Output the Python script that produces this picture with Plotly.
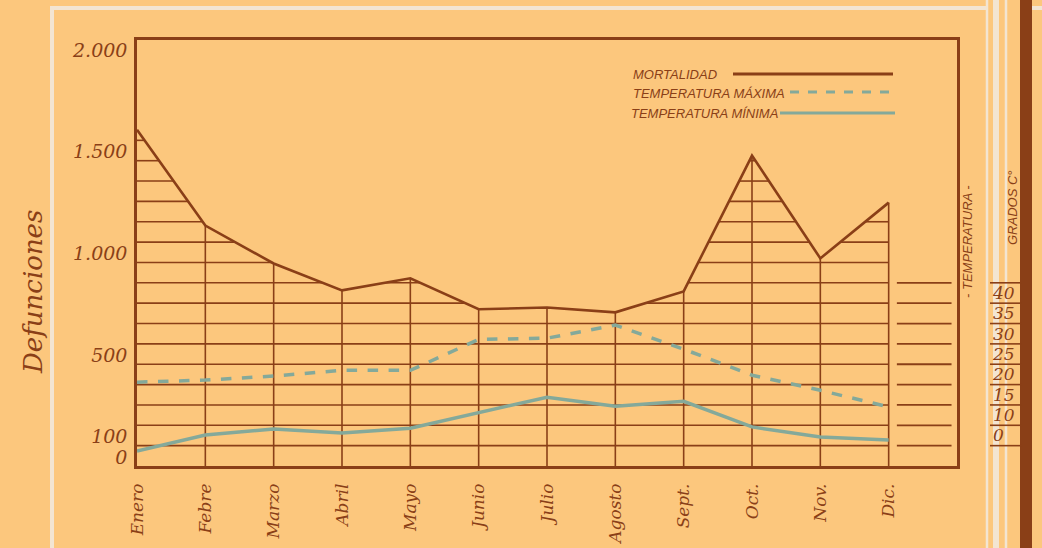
import numpy as np
import plotly.graph_objects as go

# ---------------- data ----------------
meses = ["Enero", "Febre", "Marzo", "Abril", "Mayo", "Junio",
         "Julio", "Agosto", "Sept.", "Oct.", "Nov.", "Dic."]
mortalidad = [1652, 1181, 995, 863, 922, 770, 779, 755, 858, 1525, 1020, 1294]
temp_maxima = [18.1, 18.6, 19.6, 21.0, 21.0, 28.6, 28.9, 32.1, 26.2, 19.8, 16.1, 12.0]
temp_minima = [1.2, 5.1, 6.6, 5.6, 6.8, 10.5, 14.4, 12.2, 13.4, 7.1, 4.6, 3.9]

def_tickvals = [0, 100, 500, 1000, 1500, 2000]
def_ticktext = ["0", "100", "500", "1.000", "1.500", "2.000"]
temp_tickvals = [5, 10, 15, 20, 25, 30, 35, 40]
temp_ticktext = ["0", "10", "15", "20", "25", "30", "35", "40"]
escala_niveles = [100, 200, 300, 400, 500, 600, 700, 800, 900]

# ---------------- style ----------------
BG = "#FCC77D"
BROWN = "#8A3F17"
TEAL = "#84A99A"
WHITE = "#F3E5D2"
SERIF = "DejaVu Serif"
SANS = "Liberation Sans"

W, H = 1042, 548
L, R, T, B = 137, 957, 40, 466

def px(x):
    return (x - L) / (R - L)

def py(y):
    return (B - y) / (B - T)

Y_MAX = 2093
# temperature axis: 5 degrees per 100 defunciones, 10 deg at 250
def d2t(d):
    return 10 + (d - 250) / 20.0

xs = np.arange(len(meses), dtype=float)
m = np.array(mortalidad, dtype=float)

# hatch lines under the mortality curve
hx, hy = [], []
for lev in range(100, int(m.max()) + 1, 100):
    intervals = []
    for i in range(len(m) - 1):
        a, b = m[i], m[i + 1]
        if a >= lev and b >= lev:
            intervals.append([xs[i], xs[i + 1]])
        elif a >= lev > b:
            intervals.append([xs[i], xs[i] + (a - lev) / (a - b)])
        elif b >= lev > a:
            intervals.append([xs[i] + (lev - a) / (b - a), xs[i + 1]])
    merged = []
    for iv in intervals:
        if merged and abs(merged[-1][1] - iv[0]) < 1e-9:
            merged[-1][1] = iv[1]
        else:
            merged.append(list(iv))
    for a0, a1 in merged:
        hx += [a0, a1, None]
        hy += [lev, lev, None]

vx, vy = [], []
for i in range(1, len(m)):
    vx += [xs[i], xs[i], None]
    vy += [0, m[i], None]

fig = go.Figure()
fig.add_trace(go.Scatter(x=hx, y=hy, mode="lines", line=dict(color=BROWN, width=1.6),
                         hoverinfo="skip", showlegend=False))
fig.add_trace(go.Scatter(x=vx, y=vy, mode="lines", line=dict(color=BROWN, width=1.6),
                         hoverinfo="skip", showlegend=False))
fig.add_trace(go.Scatter(x=xs, y=temp_maxima, yaxis="y2", mode="lines",
                         line=dict(color=TEAL, width=3.5, dash="dash"),
                         name="Temperatura máxima", showlegend=False))
fig.add_trace(go.Scatter(x=xs, y=temp_minima, yaxis="y2", mode="lines",
                         line=dict(color=TEAL, width=3.5),
                         name="Temperatura mínima", showlegend=False))
fig.add_trace(go.Scatter(x=xs, y=mortalidad, mode="lines",
                         line=dict(color=BROWN, width=2.6),
                         name="Mortalidad", showlegend=False))

shapes = []
# paper decorations
shapes.append(dict(type="line", xref="paper", yref="paper", x0=px(50), x1=px(988), y0=py(8), y1=py(8),
                   line=dict(color=WHITE, width=4), layer="below"))
shapes.append(dict(type="line", xref="paper", yref="paper", x0=px(52), x1=px(52), y0=py(6), y1=py(560),
                   line=dict(color=WHITE, width=4), layer="below"))
for xx, ww in [(987, 2.5), (996, 6), (1006, 2.5)]:
    shapes.append(dict(type="line", xref="paper", yref="paper", x0=px(xx), x1=px(xx), y0=py(-10), y1=py(560),
                       line=dict(color=WHITE, width=ww), layer="below"))
shapes.append(dict(type="line", xref="paper", yref="paper", x0=px(1026), x1=px(1026), y0=py(-10), y1=py(560),
                   line=dict(color=BROWN, width=12), layer="below"))
shapes.append(dict(type="line", xref="paper", yref="paper", x0=px(1032), x1=px(1045), y0=py(8), y1=py(8),
                   line=dict(color=WHITE, width=4), layer="below"))

# temperature scale lines (inside and outside the frame)
for lev in escala_niveles:
    shapes.append(dict(type="line", xref="x", yref="y", x0=11.12, x1=11.92, y0=lev, y1=lev,
                       line=dict(color=BROWN, width=1.8)))
    shapes.append(dict(type="line", xref="paper", yref="y", x0=px(990), x1=px(1022), y0=lev, y1=lev,
                       line=dict(color=BROWN, width=1.6)))

# legend lines
shapes.append(dict(type="line", xref="paper", yref="paper", x0=px(733), x1=px(893), y0=py(74), y1=py(74),
                   line=dict(color=BROWN, width=3)))
shapes.append(dict(type="line", xref="paper", yref="paper", x0=px(790), x1=px(895), y0=py(92), y1=py(92),
                   line=dict(color=TEAL, width=3, dash="dash")))
shapes.append(dict(type="line", xref="paper", yref="paper", x0=px(780), x1=px(895), y0=py(113), y1=py(113),
                   line=dict(color=TEAL, width=3)))

leg_font = dict(family=SANS, size=13, color=BROWN, style="italic")
annotations = [
    dict(text="MORTALIDAD", xref="paper", yref="paper", x=px(631), y=py(74), xanchor="left",
         yanchor="middle", showarrow=False, font=leg_font),
    dict(text="TEMPERATURA MÁXIMA", xref="paper", yref="paper", x=px(631), y=py(93), xanchor="left",
         yanchor="middle", showarrow=False, font=leg_font),
    dict(text="TEMPERATURA MÍNIMA", xref="paper", yref="paper", x=px(629), y=py(114), xanchor="left",
         yanchor="middle", showarrow=False, font=leg_font),
    dict(text="Defunciones", xref="paper", yref="paper", x=px(33), y=py(292), textangle=-90,
         xanchor="center", yanchor="middle", showarrow=False,
         font=dict(family=SERIF, size=26, color=BROWN, style="italic")),
    dict(text="- TEMPERATURA -", xref="paper", yref="paper", x=px(968), y=py(242), textangle=-90,
         xanchor="center", yanchor="middle", showarrow=False,
         font=dict(family=SANS, size=13, color=BROWN, style="italic")),
    dict(text="GRADOS C°", xref="paper", yref="paper", x=px(1012), y=py(208), textangle=-90,
         xanchor="center", yanchor="middle", showarrow=False,
         font=dict(family=SANS, size=13, color=BROWN, style="italic")),
]

fig.update_layout(
    width=W, height=H, autosize=False,
    margin=dict(l=L, r=W - R, t=T, b=H - B, pad=0),
    paper_bgcolor=BG, plot_bgcolor=BG,
    showlegend=False,
    shapes=shapes, annotations=annotations,
    xaxis=dict(range=[0, 12], tickmode="array", tickvals=list(xs), ticktext=meses,
               tickangle=-90, showgrid=False, zeroline=False, showline=True, mirror=True,
               linecolor=BROWN, linewidth=2.5, ticks="", ticklabelstandoff=8, automargin=False,
               tickfont=dict(family=SERIF, size=17, color=BROWN, style="italic")),
    yaxis=dict(range=[0, Y_MAX], tickmode="array", tickvals=def_tickvals, ticktext=def_ticktext,
               showgrid=False, zeroline=False, showline=True, mirror=True,
               linecolor=BROWN, linewidth=2.5, ticks="", ticklabelshift=-9, ticklabelstandoff=3,
               automargin=False,
               tickfont=dict(family=SERIF, size=19, color=BROWN, style="italic")),
    yaxis2=dict(overlaying="y", side="right", range=[d2t(0), d2t(Y_MAX)],
                tickmode="array", tickvals=temp_tickvals, ticktext=temp_ticktext,
                showgrid=False, zeroline=False, showline=False, ticks="",
                ticklabelstandoff=35, automargin=False,
                tickfont=dict(family=SERIF, size=17, color=BROWN, style="italic")),
)

fig.write_html("out.html", config={"displayModeBar": False},
               post_script="document.body.style.margin='0';document.body.style.overflow='hidden';")
